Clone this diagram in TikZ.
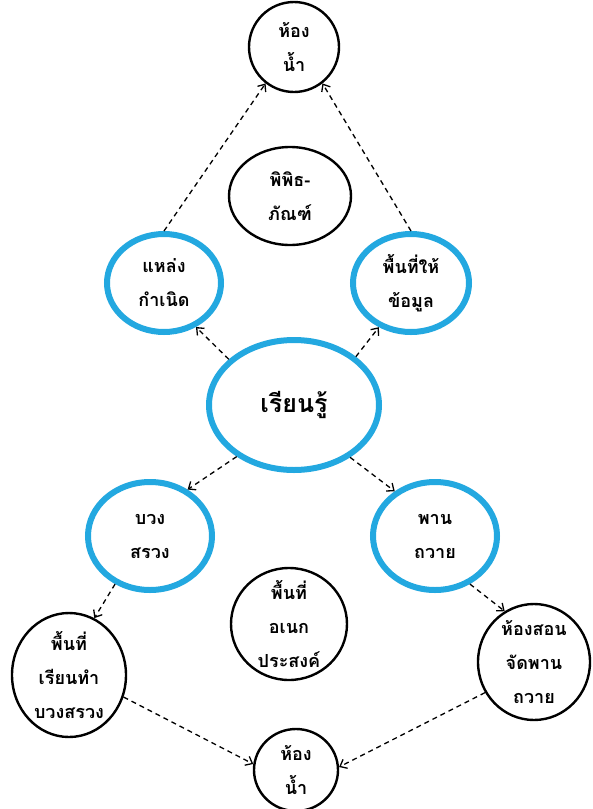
\documentclass[tikz,border=0pt]{standalone}
\usepackage{fontspec}
\newfontfamily\thaifont[Script=Thai]{Loma}
\usetikzlibrary{shapes.geometric,arrows.meta}
\definecolor{ringblue}{RGB}{35,168,224}
\begin{document}
\begin{tikzpicture}[x=1pt,y=-1pt,
  ring/.style={ellipse,draw=black,line width=2.4pt,inner sep=0pt},
  bluering/.style={ellipse,draw=ringblue,line width=6pt,inner sep=0pt},
  lbl/.style={font=\thaifont\bfseries\fontsize{18}{34}\selectfont,align=center,inner sep=0pt},
  biglbl/.style={font=\thaifont\bfseries\fontsize{25}{28}\selectfont,align=center,inner sep=0pt},
  conn/.style={dash pattern=on 5pt off 4pt,line width=1.3pt,-{Straight Barb[length=6pt,width=10pt]}}]
\useasboundingbox[fill=white] (0,0) rectangle (593,809);
% top toilet
\node[ring,minimum width=90pt,minimum height=90pt,label={[lbl]center:{ห้อง\\น้ำ}}] (wctop) at (294,47) {};
% museum
\node[ring,minimum width=122pt,minimum height=98pt,label={[lbl]center:{พิพิธ-\\ภัณฑ์}}] (museum) at (290,196) {};
% origin
\node[bluering,minimum width=114pt,minimum height=98pt,label={[lbl]center:{แหล่ง\\กำเนิด}}] (origin) at (164,283) {};
% info
\node[bluering,minimum width=116pt,minimum height=98pt,label={[lbl]center:{พื้นที่ให้\\ข้อมูล}}] (info) at (411,283) {};
% learn
\node[bluering,minimum width=170pt,minimum height=130pt,label={[biglbl]center:{เรียนรู้}}] (learn) at (294,405) {};
% worship
\node[bluering,minimum width=124pt,minimum height=108pt,label={[lbl]center:{บวง\\สรวง}}] (worship) at (150,536) {};
% tray
\node[bluering,minimum width=124pt,minimum height=108pt,label={[lbl]center:{พาน\\ถวาย}}] (tray) at (435,536) {};
% multipurpose
\node[ring,minimum width=116pt,minimum height=112pt,label={[lbl]center:{พื้นที่\\อเนก\\ประสงค์}}] (multi) at (289,624) {};
% worship learning area
\node[ring,minimum width=114pt,minimum height=124pt,label={[lbl]center:{พื้นที่\\เรียนทำ\\บวงสรวง}}] (wsarea) at (69,675) {};
% tray class room
\node[ring,minimum width=112pt,minimum height=116pt,label={[lbl]center:{ห้องสอน\\จัดพาน\\ถวาย}}] (trayroom) at (534,662) {};
% bottom toilet
\node[ring,minimum width=84pt,minimum height=82pt,label={[lbl]center:{ห้อง\\น้ำ}}] (wcbot) at (296,770) {};
% connectors
\draw[conn] (origin.north) -- (wctop.232);
\draw[conn] (info.north) -- (wctop.308);
\draw[conn] (learn.145) -- (origin.306);
\draw[conn] (learn.38) -- (info.234);
\draw[conn] (learn.222) -- (worship.51);
\draw[conn] (learn.317) -- (tray.132);
\draw[conn] (worship.234) -- (wsarea.66);
\draw[conn] (tray.306) -- (trayroom.120);
\draw[conn] (wsarea.338) -- (wcbot.172);
\draw[conn] (trayroom.212) -- (wcbot.4);
\end{tikzpicture}
\end{document}
